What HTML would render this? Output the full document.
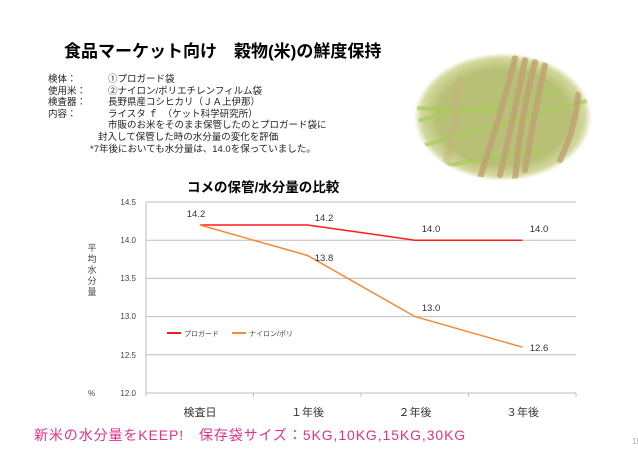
<!DOCTYPE html>
<html><head><meta charset="utf-8"><style>
body{margin:0;width:638px;height:468px;background:#fff;overflow:hidden;position:relative;font-family:"Liberation Sans","Noto Sans CJK JP",sans-serif}
.t{position:absolute;white-space:nowrap}
</style></head><body>
<div class="t" style="left:64px;top:37px;font-size:17px;font-weight:bold;color:#000">食品マーケット向け　穀物(米)の鮮度保持</div>
<div class="t" style="left:48px;top:74px;font-size:9.5px;line-height:11.6px;color:#222">検体：<br>使用米：<br>検査器：<br>内容：</div>
<div class="t" style="left:108px;top:74px;font-size:9.5px;line-height:11.6px;color:#222">①プロガード袋<br>②ナイロン/ポリエチレンフィルム袋<br>長野県産コシヒカリ（ＪＡ上伊那）<br>ライスタ ｆ　（ケット科学研究所）<br>市販のお米をそのまま保管したのとプロガード袋に</div>
<div class="t" style="left:98px;top:132px;font-size:9.5px;line-height:11.6px;color:#222">封入して保管した時の水分量の変化を評価</div>
<div class="t" style="left:90px;top:144px;font-size:9.5px;line-height:11.6px;color:#222">*7年後においても水分量は、14.0を保っていました。</div>
<svg style="position:absolute;left:0;top:0" width="638" height="468">
<defs>
<radialGradient id="g" cx="50%" cy="50%" r="50%"><stop offset="0.75" stop-color="#b8c078"/><stop offset="0.92" stop-color="#d3d99c"/><stop offset="1" stop-color="#fff"/></radialGradient>
<clipPath id="c"><ellipse cx="503" cy="117" rx="87" ry="62"/></clipPath>
</defs>
<ellipse cx="503" cy="117" rx="89" ry="64" fill="url(#g)"/>
<g clip-path="url(#c)" stroke-linecap="round">
<path d="M415 108 L500 112 M420 120 L560 90 M425 145 L590 100 M430 168 L540 150" stroke="#a8cc5a" stroke-width="4" fill="none" opacity=".7"/>
<path d="M515 58 Q505 100 480 178 M525 60 Q515 110 500 175 M535 62 Q520 120 515 180 M545 65 Q535 110 525 170 M578 95 Q575 130 560 160" stroke="#bfa070" stroke-width="6" fill="none" opacity=".8"/>
<path d="M460 80 Q455 120 445 170" stroke="#c8b080" stroke-width="8" fill="none" opacity=".4"/>
</g>
<text x="187" y="192" font-size="13.5" font-weight="bold" fill="#000">コメの保管/水分量の比較</text>
<g stroke="#bdbdbd" stroke-width="1">
<line x1="146" y1="202" x2="576" y2="202"/><line x1="146" y1="240.2" x2="576" y2="240.2"/><line x1="146" y1="278.4" x2="576" y2="278.4"/><line x1="146" y1="316.6" x2="576" y2="316.6"/><line x1="146" y1="354.8" x2="576" y2="354.8"/>
<line x1="146" y1="393" x2="576" y2="393"/><line x1="146" y1="202" x2="146" y2="396"/>
<line x1="253.5" y1="393" x2="253.5" y2="397"/><line x1="361" y1="393" x2="361" y2="397"/><line x1="468.5" y1="393" x2="468.5" y2="397"/><line x1="576" y1="393" x2="576" y2="397"/>
</g>
<g font-size="8" fill="#444" text-anchor="end">
<text x="136" y="205">14.5</text><text x="136" y="243">14.0</text><text x="136" y="281">13.5</text><text x="136" y="319">13.0</text><text x="136" y="358">12.5</text><text x="136" y="396">12.0</text>
</g>
<text x="88" y="396" font-size="8" fill="#444">%</text>
<g font-size="9" fill="#444" text-anchor="middle"><text x="92" y="251">平</text><text x="92" y="262">均</text><text x="92" y="273">水</text><text x="92" y="284">分</text><text x="92" y="295">量</text></g>
<polyline points="200,225 307.5,225 415,240.2 522.5,240.2" fill="none" stroke="#ff1a1a" stroke-width="1.5"/>
<polyline points="200,225 307.5,255.5 415,316.6 522.5,347.2" fill="none" stroke="#f58a3a" stroke-width="1.5"/>
<g font-size="9.5" fill="#333" text-anchor="middle">
<text x="196" y="217">14.2</text><text x="324" y="221">14.2</text><text x="431" y="232">14.0</text><text x="539" y="232">14.0</text>
<text x="324" y="261">13.8</text><text x="431" y="311">13.0</text><text x="539" y="351">12.6</text>
</g>
<line x1="167" y1="333" x2="181" y2="333" stroke="#ff1a1a" stroke-width="2"/>
<text x="184" y="336" font-size="7" fill="#444">プロガード</text>
<line x1="232" y1="333" x2="246" y2="333" stroke="#f58a3a" stroke-width="2"/>
<text x="249" y="336" font-size="7" fill="#444">ナイロン/ポリ</text>
<g font-size="11" fill="#333" text-anchor="middle">
<text x="200" y="416">検査日</text><text x="307.5" y="416">１年後</text><text x="415" y="416">２年後</text><text x="522.5" y="416">３年後</text>
</g>
<text x="632" y="444" font-size="8" fill="#aaa">15</text>
</svg>
<div class="t" style="left:34px;top:425px;font-size:14px;letter-spacing:0.9px;color:#e0338a">新米の水分量をKEEP!　保存袋サイズ：5KG,10KG,15KG,30KG</div>
</body></html>
